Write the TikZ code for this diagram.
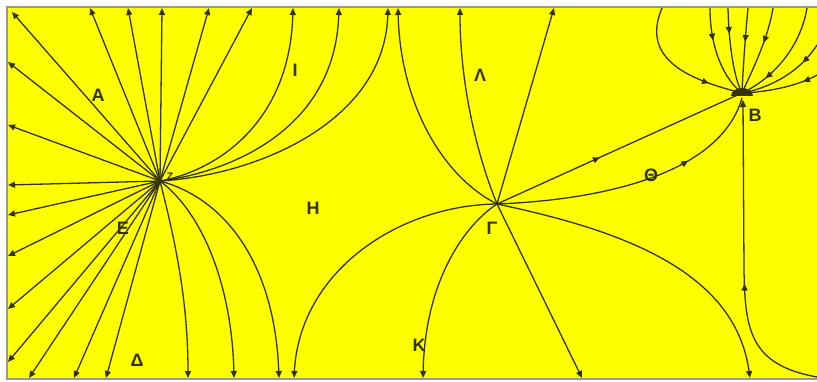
\documentclass[tikz,border=0pt]{standalone}
\usepackage{fontspec}
\setmainfont{Liberation Sans}
\usetikzlibrary{arrows.meta,decorations.markings}
\definecolor{bg}{HTML}{FFFF00}
\definecolor{ln}{HTML}{333300}
\definecolor{rim}{HTML}{9A9A8A}
\tikzset{
  traj/.style={draw=ln,line width=1.3pt},
  outa/.style={traj,-{Triangle[length=7pt,width=6pt]}},
  mida/.style={traj,postaction={decorate},decoration={markings,
    mark=at position #1 with {\arrow{Triangle[length=7pt,width=6pt]}}}},
  lbl/.style={font=\fontsize{18}{18}\selectfont\bfseries,text=ln,inner sep=0pt},
}

\begin{document}
\begin{tikzpicture}[x=1pt,y=-1pt]
\useasboundingbox (0,0) rectangle (817,382);
\fill[white] (0,0) rectangle (817,382);
\fill[bg] (7,7) rectangle (817,379);
\draw[rim,line width=1.4pt] (817,7) -- (7,7) -- (7,379) -- (817,379);

\coordinate (Z) at (160,181);
\coordinate (G) at (497,204);
\coordinate (B) at (742,93);

% source Z
\foreach \x/\y in {12/12,90/8,128/8,162/8,209/8,252/8,8/62,8/125,8/185,8/215,8/256,8/309,8/362,29/378,74/378,106/378}
  \draw[outa] (Z) -- (\x,\y);
\draw[outa] (Z) .. controls (220,170) and (290,120) .. (293,8);
\draw[outa] (Z) .. controls (230,172) and (335,130) .. (339,8);
\draw[outa] (Z) .. controls (260,175) and (385,120) .. (388,8);
\draw[outa] (Z) .. controls (175,240) and (188,300) .. (188,378);
\draw[outa] (Z) .. controls (205,215) and (232,290) .. (234,378);
\draw[outa] (Z) .. controls (230,200) and (275,270) .. (279,378);

% saddle G
\draw[outa] (G) .. controls (440,175) and (400,100) .. (398,8);
\draw[outa] (G) .. controls (475,150) and (460,80) .. (460,8);
\draw[outa] (G) -- (554,8);
\draw[outa] (G) .. controls (400,205) and (300,270) .. (294,378);
\draw[outa] (G) .. controls (465,225) and (425,280) .. (423,378);
\draw[outa] (G) -- (582,378);
\draw[outa] (G) .. controls (620,230) and (735,270) .. (750,378);
\draw[mida=0.42] (G) -- (B);
\draw[mida=0.7] (G) .. controls (600,200) and (720,175) .. (742,98);

% sink B
\draw[mida=0.42,-{Triangle[length=7pt,width=6pt]}] (817,377) .. controls (750,365) and (745,330) .. (744,270) -- (743,100);
\draw[mida=0.75] (662,8) .. controls (640,60) and (690,80) .. (B);
\draw[mida=0.35] (710,8) .. controls (710,50) and (725,80) .. (B);
\draw[mida=0.3] (728,8) .. controls (729,50) and (735,80) .. (B);
\draw[mida=0.4] (748,8) .. controls (745,40) and (743,70) .. (B);
\draw[mida=0.4] (773,8) .. controls (768,40) and (750,75) .. (B);
\draw[mida=0.75] (807,8) .. controls (800,50) and (770,80) .. (B);
\draw[mida=0.25] (817,45) .. controls (800,72) and (770,88) .. (B);
\draw[mida=0.2] (817,75) .. controls (800,85) and (770,92) .. (B);
\fill[ln] (731,96) arc[start angle=180,end angle=360,x radius=11,y radius=8] -- cycle;

% labels
\node[lbl] (lA) at (98,95) {Α};
\node[lbl] (lB) at (755,115) {Β};
\node[lbl] (lG) at (492,228) {Γ};
\node[lbl] (lD) at (137,360) {Δ};
\node[lbl] (lE) at (123,228) {Ε};
\node[lbl,font=\fontsize{11}{11}\selectfont\bfseries] (lZ) at (170,177) {Ζ};
\node[lbl] (lH) at (313,208) {Η};
\node[lbl] (lT) at (651,175) {Θ};
\node[lbl] (lI) at (295,70) {Ι};
\node[lbl] (lK) at (419,345) {Κ};
\node[lbl] (lL) at (480,75) {Λ};
\end{tikzpicture}
\end{document}
